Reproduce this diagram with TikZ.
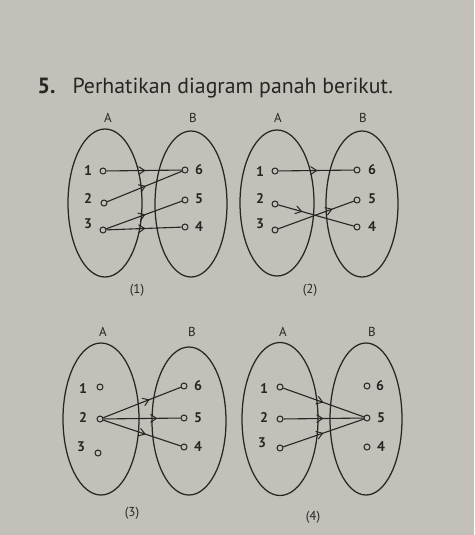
\documentclass[tikz,border=0pt]{standalone}
\usepackage{fontspec}
\setmainfont{PT Sans}
\usetikzlibrary{shapes.geometric,decorations.markings,arrows.meta}
\definecolor{ink}{RGB}{38,38,36}
\definecolor{paper}{RGB}{194,192,184}
\begin{document}
\begin{tikzpicture}[x=1pt,y=-1pt,
  setshape/.style={draw=ink, ellipse, line width=1.25pt, inner sep=0pt},
  dot/.style={circle, draw=ink, line width=1pt, minimum size=6pt, inner sep=0pt},
  lbl/.style={font=\fontsize{14}{14}\selectfont\bfseries, text=ink},
  hd/.style={font=\fontsize{13}{13}\selectfont, text=ink},
  capt/.style={font=\fontsize{13}{13}\selectfont, text=ink},
  arr/.style={draw=ink, line width=1.1pt, postaction={decorate},
    decoration={markings, mark=at position #1 with {\arrow{Straight Barb[length=6pt,width=8pt,line width=1pt]}}}},
  arr/.default=0.5
]
\fill[paper] (0,0) rectangle (474,535);
\useasboundingbox (0,0) rectangle (474,535);

% title
\node[anchor=base west, font=\fontsize{22}{22}\selectfont\bfseries, text=ink] (num) at (34,93) {5.};
\node[anchor=base west, font=\fontsize{21.8}{22}\selectfont, text=ink] (title) at (69,93) {Perhatikan diagram panah berikut.};

% ---------- panel 1 ----------
\node[setshape, minimum width=74pt, minimum height=148pt] (A1) at (105,203) {};
\node[setshape, minimum width=72pt, minimum height=146pt] (B1) at (191,204) {};
\node[hd] (hA1) at (108,118) {A};
\node[hd] (hB1) at (193,118) {B};
\node[dot] (p1a1) at (103,171) {};
\node[dot] (p1a2) at (104,203) {};
\node[dot] (p1a3) at (103,230) {};
\node[lbl] (l1a1) at (88,171) {1};
\node[lbl] (l1a2) at (88,199) {2};
\node[lbl] (l1a3) at (88,224) {3};
\node[dot] (p1b6) at (185,170) {};
\node[dot] (p1b5) at (185,200) {};
\node[dot] (p1b4) at (185,227) {};
\node[lbl] (l1b6) at (199,170) {6};
\node[lbl] (l1b5) at (199,199) {5};
\node[lbl] (l1b4) at (199,227) {4};
\node[capt] (c1) at (137,290) {(1)};
\draw[arr=0.52] (p1a1) -- (p1b6);
\draw[arr=0.52] (p1a2) -- (p1b6);
\draw[arr=0.52] (p1a3) -- (p1b5);
\draw[arr=0.52] (p1a3) -- (p1b4);

% ---------- panel 2 ----------
\node[setshape, minimum width=74pt, minimum height=146pt] (A2) at (277,203) {};
\node[setshape, minimum width=72pt, minimum height=146pt] (B2) at (362,204) {};
\node[hd] (hA2) at (278,118) {A};
\node[hd] (hB2) at (363,118) {B};
\node[dot] (p2a1) at (275,171) {};
\node[dot] (p2a2) at (275,204) {};
\node[dot] (p2a3) at (275,230) {};
\node[lbl] (l2a1) at (260,172) {1};
\node[lbl] (l2a2) at (260,199) {2};
\node[lbl] (l2a3) at (260,224) {3};
\node[dot] (p2b6) at (357,170) {};
\node[dot] (p2b5) at (357,200) {};
\node[dot] (p2b4) at (357,227) {};
\node[lbl] (l2b6) at (372,170) {6};
\node[lbl] (l2b5) at (372,199) {5};
\node[lbl] (l2b4) at (372,227) {4};
\node[capt] (c2) at (310,290) {(2)};
\draw[arr=0.52] (p2a1) -- (p2b6);
\draw[arr=0.32] (p2a2) -- (p2b4);
\draw[arr=0.72] (p2a3) -- (p2b5);

% ---------- panel 3 ----------
\node[setshape, minimum width=76pt, minimum height=152pt] (A3) at (101,419) {};
\node[setshape, minimum width=74pt, minimum height=148pt] (B3) at (189,421) {};
\node[hd] (hA3) at (103,332) {A};
\node[hd] (hB3) at (192,332) {B};
\node[dot] (p3a1) at (100,387) {};
\node[dot] (p3a2) at (100,419) {};
\node[dot] (p3a3) at (98,453) {};
\node[lbl] (l3a1) at (83,389) {1};
\node[lbl] (l3a2) at (83,417) {2};
\node[lbl] (l3a3) at (81,447) {3};
\node[dot] (p3b6) at (184,386) {};
\node[dot] (p3b5) at (184,418) {};
\node[dot] (p3b4) at (184,447) {};
\node[lbl] (l3b6) at (198,386) {6};
\node[lbl] (l3b5) at (198,418) {5};
\node[lbl] (l3b4) at (198,447) {4};
\node[capt] (c3) at (132,513) {(3)};
\draw[arr=0.6] (p3a2) -- (p3b6);
\draw[arr=0.7] (p3a2) -- (p3b5);
\draw[arr=0.55] (p3a2) -- (p3b4);

% ---------- panel 4 ----------
\node[setshape, minimum width=76pt, minimum height=153pt] (A4) at (280,419) {};
\node[setshape, minimum width=72pt, minimum height=152pt] (B4) at (366,419) {};
\node[hd] (hA4) at (283,332) {A};
\node[hd] (hB4) at (372,332) {B};
\node[dot] (p4a1) at (280,387) {};
\node[dot] (p4a2) at (280,419) {};
\node[dot] (p4a3) at (280,448) {};
\node[lbl] (l4a1) at (264,389) {1};
\node[lbl] (l4a2) at (264,417) {2};
\node[lbl] (l4a3) at (262,443) {3};
\node[dot] (p4b6) at (367,386) {};
\node[dot] (p4b5) at (367,418) {};
\node[dot] (p4b4) at (367,447) {};
\node[lbl] (l4b6) at (380,386) {6};
\node[lbl] (l4b5) at (381,418) {5};
\node[lbl] (l4b4) at (381,447) {4};
\node[capt] (c4) at (313,517) {(4)};
\draw[arr] (p4a1) -- (p4b5);
\draw[arr] (p4a2) -- (p4b5);
\draw[arr] (p4a3) -- (p4b5);
\end{tikzpicture}
\end{document}
